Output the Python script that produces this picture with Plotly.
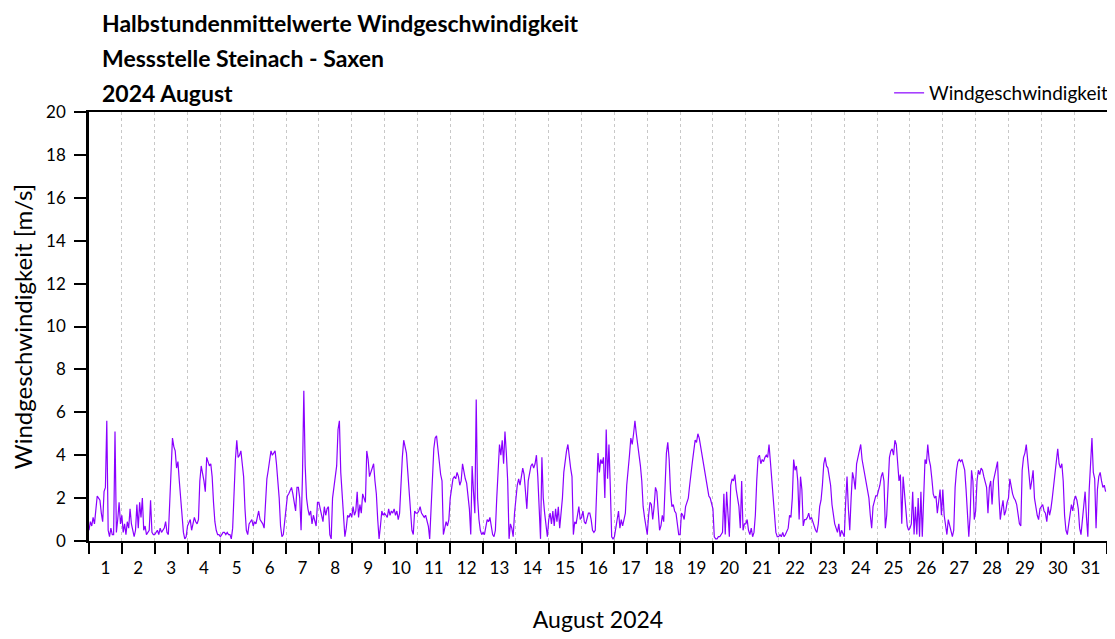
import pandas as pd
import plotly.graph_objects as go

# Hourly readings (m/s), one row per day of August 2024
wind_speed = [
    # 1
    0.5, 0.9, 0.7, 1.1, 0.8, 1.5, 2.1, 2.0, 1.9, 1.3, 0.9, 2.3, 2.5, 5.6, 0.5, 0.2, 0.6, 0.3, 0.3, 5.1, 0.4, 1.0, 1.8, 0.8,
    # 2
    1.2, 0.4, 0.8, 0.3, 0.9, 0.6, 1.5, 0.8, 0.4, 0.2, 0.5, 1.7, 0.6, 1.8, 1.1, 2.0, 0.5, 0.7, 0.3, 0.4, 0.5, 1.9, 0.4, 0.3,
    # 3
    0.3, 0.4, 0.5, 0.3, 0.6, 0.4, 0.5, 0.6, 0.9, 0.4, 0.3, 2.1, 3.2, 4.8, 4.4, 4.2, 3.4, 3.7, 2.8, 1.9, 1.0, 0.4, 0.1, 0.2,
    # 4
    0.7, 0.9, 1.0, 0.5, 0.8, 1.1, 0.9, 0.8, 1.0, 2.8, 3.5, 3.2, 2.8, 2.3, 3.9, 3.7, 3.5, 3.6, 3.0, 1.8, 0.9, 0.5, 0.3, 0.3,
    # 5
    0.2, 0.3, 0.4, 0.4, 0.3, 0.4, 0.3, 0.3, 0.1, 0.6, 2.8, 3.8, 4.7, 3.9, 4.0, 4.2, 3.6, 3.0, 1.5, 0.5, 0.3, 0.8, 0.9, 1.0,
    # 6
    0.7, 0.9, 0.8, 1.1, 1.4, 1.0, 0.9, 0.8, 0.6, 1.8, 2.9, 3.3, 3.8, 4.2, 4.0, 4.1, 4.2, 3.6, 2.8, 2.0, 0.7, 0.2, 0.3, 0.9,
    # 7
    1.7, 2.1, 2.2, 2.4, 2.5, 2.2, 1.8, 1.4, 2.5, 2.5, 2.0, 0.5, 3.0, 7.0, 3.5, 2.0, 1.5, 1.2, 1.4, 0.8, 1.2, 1.0, 0.7, 1.8,
    # 8
    1.8, 1.5, 1.2, 0.9, 1.6, 1.2, 1.5, 1.6, 0.3, 0.1, 2.0, 2.6, 3.2, 3.5, 5.2, 5.6, 3.2, 2.3, 1.1, 0.2, 0.6, 1.2, 1.1, 1.3,
    # 9
    1.1, 1.6, 1.2, 1.4, 2.3, 1.1, 1.7, 1.3, 2.2, 2.0, 1.8, 4.2, 3.8, 3.0, 3.2, 3.4, 3.6, 2.8, 2.2, 1.0, 0.1, 0.7, 1.4, 1.2,
    # 10
    1.3, 1.2, 1.1, 1.5, 1.2, 1.4, 1.3, 1.5, 1.2, 1.4, 1.0, 1.3, 3.0, 3.9, 4.7, 4.3, 4.1, 3.2, 2.4, 1.2, 0.5, 0.3, 1.4, 1.3,
    # 11
    1.3, 1.4, 1.6, 1.3, 1.2, 1.1, 1.2, 0.9, 0.7, 0.1, 1.8, 3.5, 4.3, 4.8, 4.9, 4.3, 3.5, 3.1, 2.8, 0.3, 0.6, 0.9, 0.7, 1.0,
    # 12
    2.0, 2.6, 2.9, 3.0, 2.9, 3.2, 3.0, 2.6, 2.8, 3.6, 3.2, 2.9, 2.7, 2.2, 1.5, 0.3, 3.5, 2.3, 1.3, 6.6, 2.0, 1.0, 0.5, 0.3,
    # 13
    0.4, 0.3, 0.6, 1.0, 0.9, 1.1, 0.7, 0.3, 0.2, 0.5, 2.0, 3.2, 4.5, 4.0, 4.7, 3.6, 5.1, 4.1, 2.8, 0.1, 0.8, 0.6, 0.2, 1.3,
    # 14
    2.0, 2.6, 2.9, 2.6, 3.0, 3.4, 3.1, 2.4, 1.5, 2.8, 3.2, 3.5, 3.6, 3.4, 3.6, 4.0, 3.0, 1.4, 0.1, 3.9, 2.0, 1.3, 0.8, 0.2,
    # 15
    1.0, 1.3, 0.8, 1.4, 0.7, 1.5, 0.9, 1.6, 0.6, 1.2, 2.0, 3.2, 3.8, 4.2, 4.5, 3.8, 3.4, 3.0, 0.3, 0.9, 0.8, 1.2, 1.6, 1.0,
    # 16
    1.1, 1.4, 0.9, 0.8, 1.1, 1.3, 1.3, 1.0, 0.5, 0.4, 0.5, 2.8, 4.1, 3.2, 3.8, 3.6, 3.9, 2.0, 5.2, 2.9, 4.5, 2.5, 0.2, 0.1,
    # 17
    0.2, 0.6, 1.1, 1.4, 0.6, 1.0, 0.7, 1.0, 1.3, 2.6, 3.5, 4.0, 4.8, 4.5, 5.0, 5.6, 5.0, 4.5, 4.2, 3.5, 2.8, 1.6, 1.1, 0.7,
    # 18
    0.3, 1.2, 1.8, 1.7, 1.0, 1.6, 2.5, 2.3, 1.5, 0.5, 0.7, 1.2, 0.9, 2.5, 4.1, 4.6, 3.8, 2.3, 1.6, 1.7, 1.4, 1.3, 0.7, 0.3,
    # 19
    0.3, 1.3, 1.2, 1.0, 1.6, 1.8, 2.0, 2.6, 3.3, 3.7, 4.2, 4.7, 4.6, 5.0, 4.8, 4.4, 4.0, 3.6, 3.2, 2.9, 2.4, 2.1, 2.0, 1.8,
    # 20
    1.5, 0.2, 0.1, 0.1, 0.2, 0.2, 0.3, 0.4, 2.2, 0.3, 2.3, 1.2, 0.2, 2.6, 2.9, 2.8, 3.1, 2.4, 2.0, 1.6, 0.6, 2.8, 0.5, 0.8,
    # 21
    0.8, 1.0, 0.5, 0.3, 0.6, 0.2, 0.4, 1.2, 2.8, 3.9, 4.0, 3.6, 3.8, 3.7, 3.9, 4.0, 3.9, 4.5, 3.7, 2.9, 2.1, 1.0, 0.4, 0.2,
    # 22
    0.2, 0.3, 0.2, 0.4, 0.2, 0.3, 0.5, 0.6, 1.2, 1.1, 2.0, 3.8, 3.3, 3.5, 2.8, 1.0, 3.0, 2.4, 0.7, 1.0, 1.0, 1.1, 1.3, 1.0,
    # 23
    1.1, 0.9, 0.6, 0.5, 0.4, 0.8, 1.6, 1.9, 2.6, 3.6, 3.9, 3.5, 3.4, 3.0, 2.6, 1.7, 1.1, 0.8, 0.6, 0.4, 0.8, 0.2, 0.5, 0.3,
    # 24
    0.2, 1.8, 3.0, 1.5, 0.5, 2.0, 3.2, 2.9, 2.4, 3.6, 3.9, 4.2, 4.5, 3.8, 3.4, 3.2, 2.7, 2.4, 2.0, 1.2, 0.6, 1.6, 1.9, 2.1,
    # 25
    2.1, 2.3, 2.6, 3.0, 3.2, 2.8, 0.6, 1.2, 2.4, 3.9, 4.2, 4.3, 4.0, 4.7, 4.5, 3.6, 2.8, 3.1, 0.8, 3.0, 2.3, 1.3, 0.7, 0.5,
    # 26
    0.6, 0.8, 2.3, 0.3, 1.6, 0.3, 2.0, 0.2, 2.3, 0.2, 1.8, 3.8, 3.6, 4.5, 3.8, 3.5, 2.9, 2.2, 2.0, 2.1, 1.3, 2.0, 2.4, 1.2,
    # 27
    2.4, 1.2, 0.6, 0.3, 1.0, 0.7, 0.5, 0.2, 0.5, 2.5, 3.3, 3.7, 3.8, 3.7, 3.8, 3.6, 3.3, 2.4, 1.3, 0.2, 1.2, 3.3, 2.8, 1.0,
    # 28
    1.4, 2.8, 3.3, 3.1, 3.4, 3.3, 3.0, 2.8, 2.5, 1.3, 2.5, 2.8, 1.7, 2.8, 3.1, 3.3, 3.7, 2.1, 1.0, 1.5, 1.9, 1.2, 1.4, 1.8,
    # 29
    2.0, 2.9, 2.5, 2.2, 2.0, 1.9, 1.7, 1.3, 0.8, 0.7, 3.3, 3.9, 4.1, 4.5, 3.8, 3.4, 2.4, 2.8, 3.3, 2.0, 1.5, 1.2, 1.0, 1.5,
    # 30
    1.6, 1.7, 1.4, 1.3, 0.9, 1.6, 1.2, 1.5, 2.0, 2.6, 3.2, 4.0, 4.3, 3.6, 3.4, 3.6, 2.8, 1.2, 0.5, 0.3, 0.8, 1.4, 1.7, 1.4,
    # 31
    1.9, 2.1, 1.9, 1.5, 0.6, 0.3, 1.0, 1.8, 2.3, 1.1, 0.2, 2.4, 3.7, 4.8, 3.2, 2.9, 0.6, 2.4, 3.0, 3.2, 2.8, 2.5, 2.6, 2.3,
]

timestamps = pd.date_range("2024-08-01 00:00", periods=len(wind_speed), freq="h")

title_lines = ["Halbstundenmittelwerte Windgeschwindigkeit",
               "Messstelle Steinach - Saxen",
               "2024 August"]
series_name = "Windgeschwindigkeit"
y_title = "Windgeschwindigkeit [m/s]"
x_title = "August 2024"

FONT = "Lato, Calibri, Carlito, sans-serif"
LINE_COLOR = "#8a00ff"

fig = go.Figure()
fig.add_trace(go.Scatter(
    x=timestamps, y=wind_speed, mode="lines", name=series_name,
    line=dict(color=LINE_COLOR, width=1.2),
))

# the page body adds an 8px offset, so the figure is sized to fit inside it
fig.update_layout(
    width=1107, height=631,
    margin=dict(l=81, r=8, t=104, b=98, autoexpand=False),
    paper_bgcolor="white", plot_bgcolor="white",
    font=dict(family=FONT, size=17, color="black"),
    showlegend=True,
    legend=dict(x=1.006, y=1.0, xanchor="right", yanchor="bottom",
                bgcolor="rgba(0,0,0,0)", font=dict(size=19),
                itemwidth=30, borderwidth=0),
    xaxis=dict(
        type="date", automargin=False,
        range=["2024-08-01 00:00", "2024-09-01 00:00"],
        dtick=86400000, tick0="2024-08-01",
        ticklabelmode="period", tickformat="%-d",
        ticks="outside", ticklen=11, tickwidth=2, tickcolor="black",
        showline=True, linecolor="black", linewidth=2, mirror=True,
        showgrid=True, gridcolor="#c8c8c8", griddash="dot", gridwidth=1,
        tickfont=dict(size=17),
        title=dict(text=x_title, font=dict(size=23), standoff=34),
        zeroline=False,
    ),
    yaxis=dict(
        range=[0, 20], dtick=2, automargin=False,
        ticks="outside", ticklen=12, tickwidth=2, tickcolor="black",
        showline=True, linecolor="black", linewidth=2.5, mirror=True,
        showgrid=False, zeroline=True, zerolinecolor="black", zerolinewidth=3,
        tickfont=dict(size=17), ticklabelstandoff=5,
        title=dict(text=y_title, font=dict(size=24), standoff=10),
    ),
)

for i, line in enumerate(title_lines):
    fig.add_annotation(
        text=f"<b>{line}</b>", xref="paper", yref="paper",
        x=0.0, y=1.0, xanchor="left", yanchor="middle",
        xshift=11, yshift=89 - 35 * i,
        showarrow=False, font=dict(size=23, family=FONT),
    )

fig.write_html("out.html")
